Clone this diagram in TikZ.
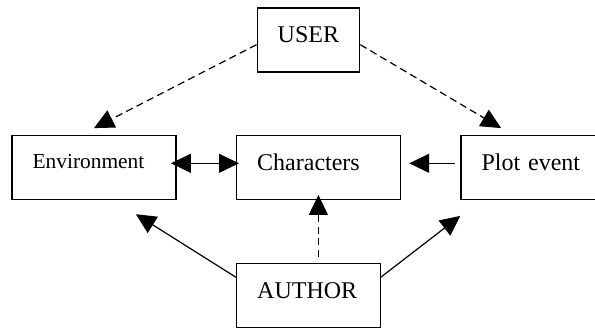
\documentclass[tikz,border=0pt]{standalone}
\usepackage{fontspec}
\setmainfont{Liberation Serif}
\usetikzlibrary{arrows.meta}

\begin{document}
\begin{tikzpicture}[x=0.5pt,y=-0.5pt,line width=0.6pt,>={Triangle[length=10pt,width=9.5pt]},
    box/.style={draw,anchor=north west,align=left,inner xsep=10.3pt,inner ysep=0pt,
      text height=17.5pt,text depth=14.5pt,font=\fontsize{12pt}{14pt}\selectfont},
    dsh/.style={dash pattern=on 3.6pt off 2.2pt}]
            \useasboundingbox (0,0) rectangle (595,332);
            \node[box,text width=30.7pt] (user) at (256.5,7.3) {USER};
            \node[box,text width=61.35pt,text height=16.8pt,text depth=15.2pt,
              font=\fontsize{10.7pt}{12pt}\selectfont] (env) at (11.4,134.7) {Environment};
            \node[box,text width=61.2pt] (chars) at (236,134.7) {Characters};
            \node[box,text width=51.75pt] (plot) at (460.3,134.7) {Plot event};
            \node[box,text width=51.15pt] (author) at (236,262.7) {AUTHOR};

            \draw[->,dsh] ([yshift=-2.4pt]user.west) -- ([yshift=3.3pt]env.north);
            \draw[->,dsh] ([yshift=-2.4pt]user.east) -- ([xshift=20.4pt,yshift=3.3pt]plot.north west);
            \draw[<->,shorten <=-2.8pt,shorten >=-1.5pt] ([yshift=2pt]env.east) -- ([yshift=2pt]chars.west);
            \draw[->,shorten <=2.85pt,shorten >=4.2pt] ([yshift=2pt]plot.west) -- ([yshift=2pt]chars.east);
            \draw[->,dsh,shorten <=2.85pt,shorten >=-2.5pt] (chars.south |- author.north) -- (chars.south);
            \draw[->] ([yshift=9pt]author.west) -- ([xshift=-20.3pt,yshift=-7.15pt]env.south east);
            \draw[->] ([yshift=9pt]author.east) -- ([yshift=-8pt]plot.south west);
\end{tikzpicture}
\end{document}
